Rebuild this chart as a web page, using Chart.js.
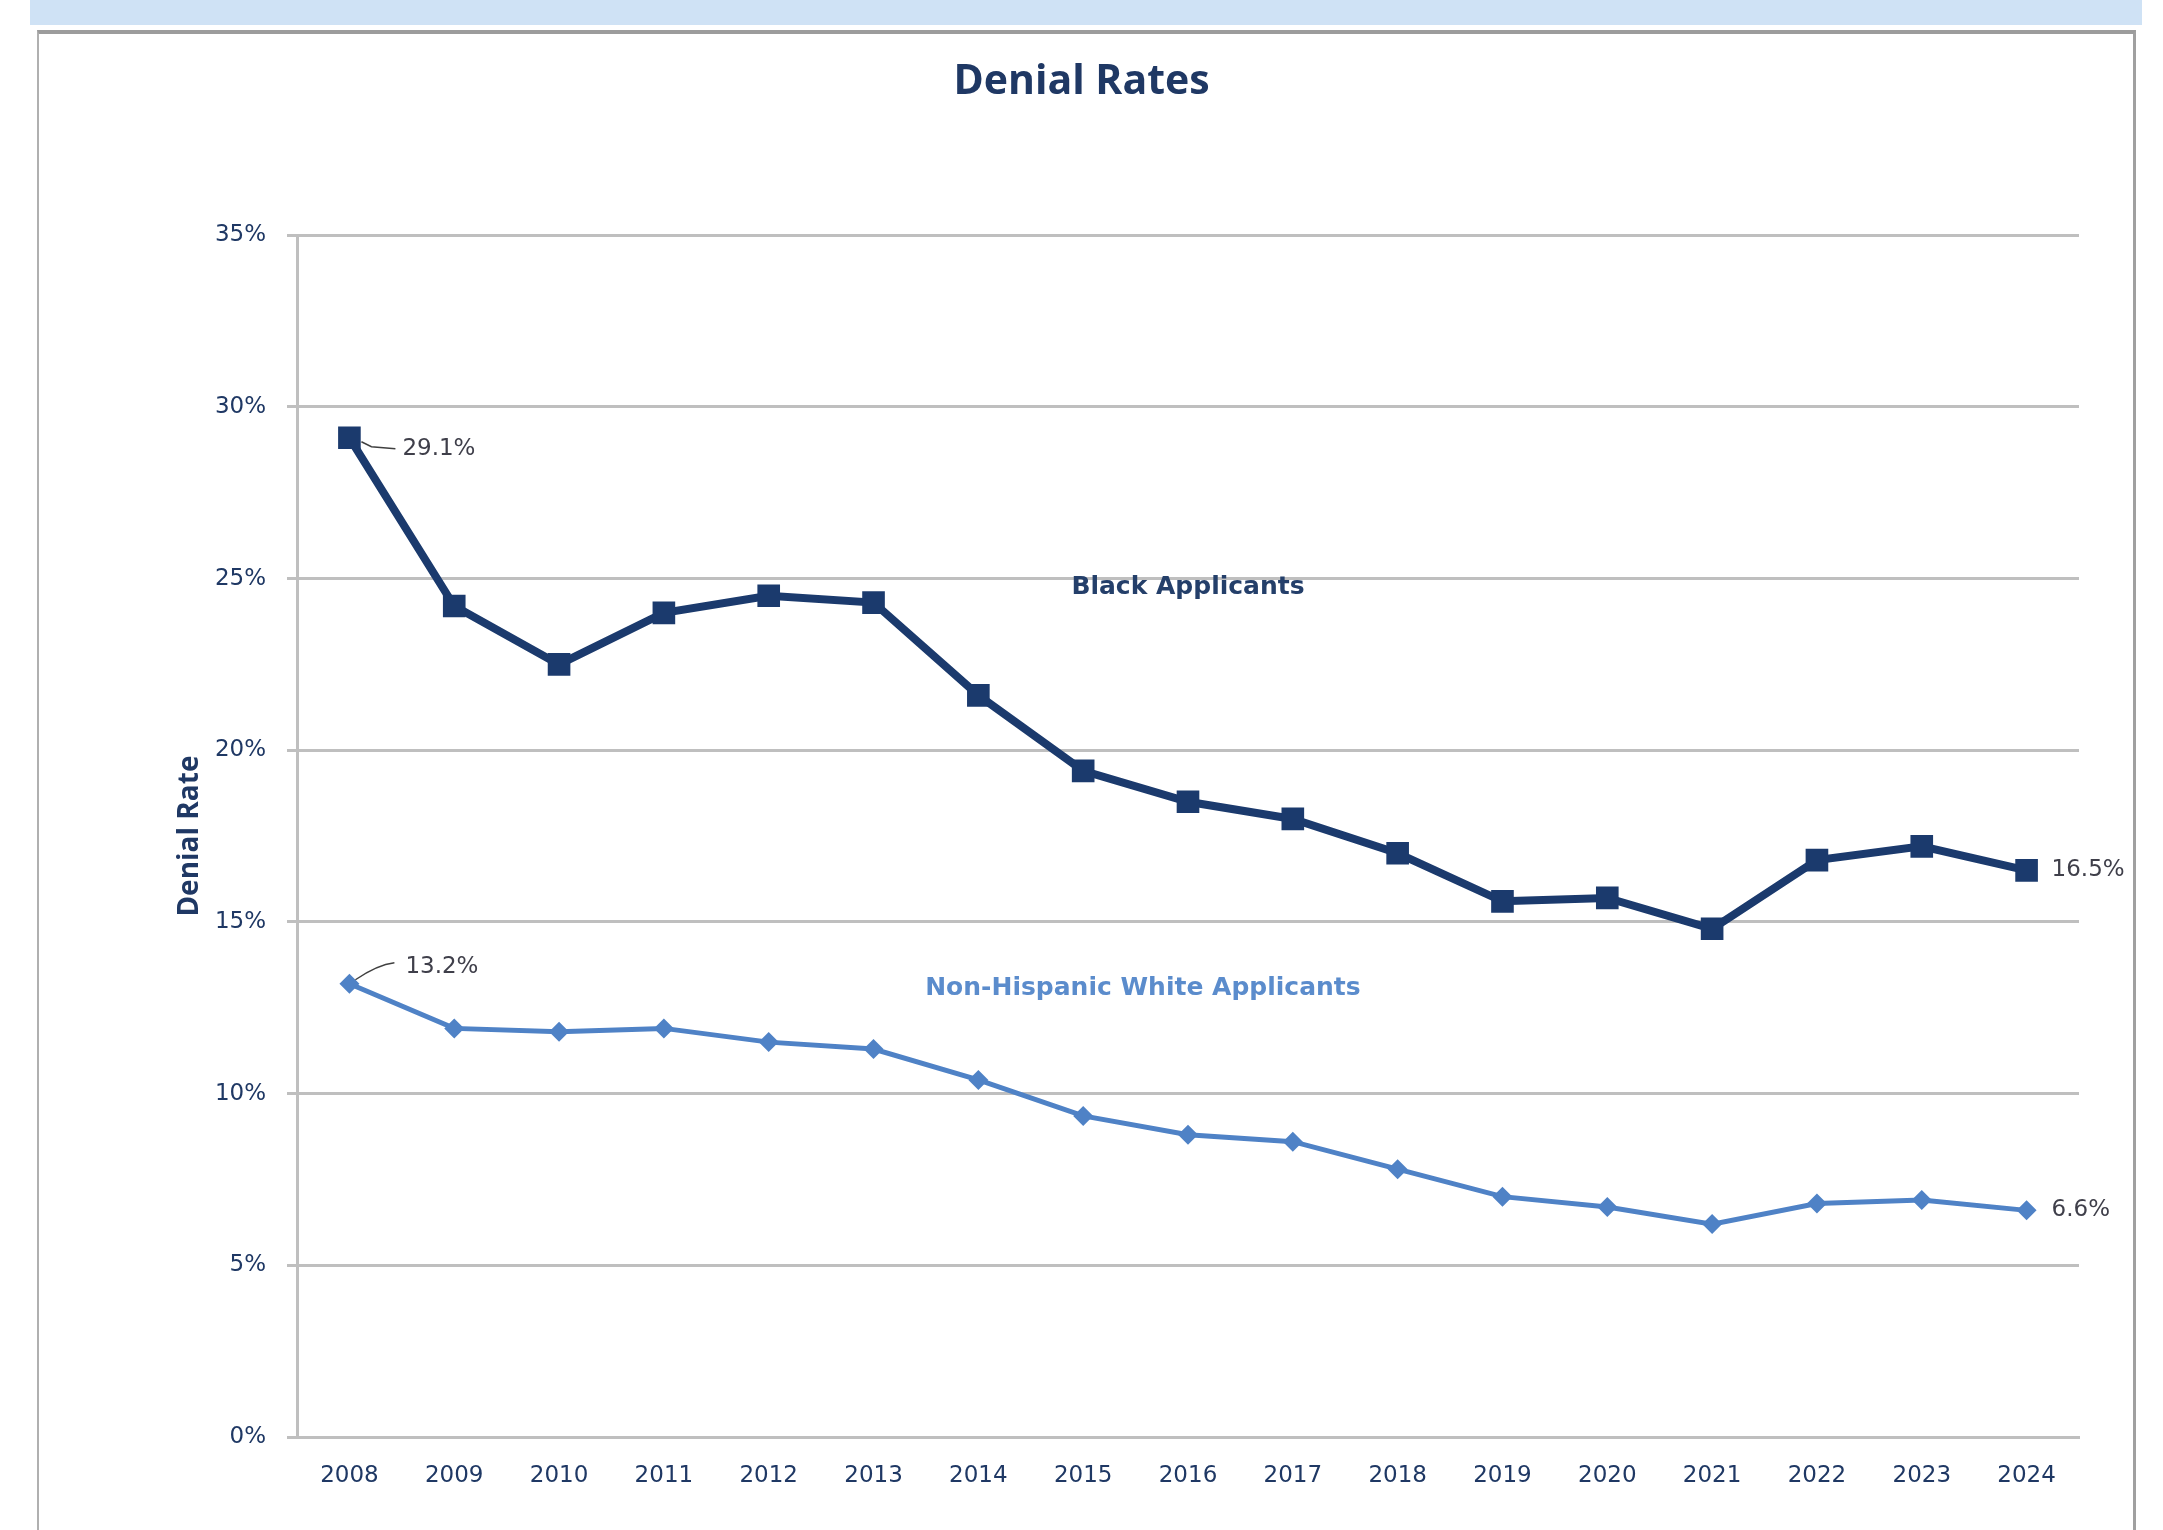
<!DOCTYPE html>
<html lang="en">

<head>
  <meta charset="UTF-8">
  <title>Denial Rates</title>
  <script src="https://cdn.jsdelivr.net/npm/chart.js"></script>
  <style>
    body { margin: 0; background: #ffffff; overflow: hidden; }
    .faixa { position: absolute; left: 30px; top: 0; width: 2112px; height: 25px; background: #cfe2f5; }
    .moldura { position: absolute; left: 37px; top: 30px; width: 2094px; height: 1520px;
      border-top: 4px solid #9c9c9c; border-left: 2px solid #b0b0b0; border-right: 3px solid #a0a0a0; background: #fff; }
    .grafico { position: absolute; left: 0; top: 0; width: 2163px; height: 1530px; }
  </style>
</head>

<body>
  <div class="faixa"></div>
  <div class="moldura"></div>
  <div class="grafico">
    <canvas id="myChartCanvas"></canvas>
  </div>

<script>
  // chart values
  const years = ['2008', '2009', '2010', '2011', '2012', '2013', '2014', '2015', '2016',
    '2017', '2018', '2019', '2020', '2021', '2022', '2023', '2024'];
  const blackRates = [29.1, 24.2, 22.5, 24.0, 24.5, 24.3, 21.6, 19.4, 18.5, 18.0, 17.0, 15.6, 15.7, 14.8, 16.8, 17.2, 16.5];
  const whiteRates = [13.2, 11.9, 11.8, 11.9, 11.5, 11.3, 10.4, 9.35, 8.8, 8.6, 7.8, 7.0, 6.7, 6.2, 6.8, 6.9, 6.6];
  const yMin = 0;
  const yMax = 35;
  const yStep = 5;

  const navy = '#1f3864';
  const darkLine = '#1b3a6d';
  const lightLine = '#4f82c6';
  const gridColor = '#bfbfbf';
  const tickFont = { family: 'DejaVu Sans', size: 23 };

  // first / last value labels with their little leader lines
  const valueLabels = {
    id: 'valueLabels',
    afterDatasetsDraw(chart) {
      const ctx = chart.ctx;
      const b = chart.getDatasetMeta(0).data;
      const w = chart.getDatasetMeta(1).data;
      const last = years.length - 1;

      ctx.save();
      ctx.font = '23px "DejaVu Sans"';
      ctx.fillStyle = '#3f3f4a';
      ctx.textAlign = 'left';
      ctx.textBaseline = 'middle';
      ctx.strokeStyle = '#404040';
      ctx.lineWidth = 1.5;

      // 2008 black
      let p = b[0];
      ctx.beginPath();
      ctx.moveTo(p.x + 12, p.y + 4);
      ctx.lineTo(p.x + 22, p.y + 9);
      ctx.lineTo(p.x + 46, p.y + 11);
      ctx.stroke();
      ctx.fillText(blackRates[0].toFixed(1) + '%', p.x + 53, p.y + 11);

      // 2008 white
      p = w[0];
      ctx.beginPath();
      ctx.moveTo(p.x + 6, p.y - 4);
      ctx.quadraticCurveTo(p.x + 28, p.y - 19, p.x + 45, p.y - 21);
      ctx.stroke();
      ctx.fillText(whiteRates[0].toFixed(1) + '%', p.x + 56, p.y - 17);

      // 2024 both
      p = b[last];
      ctx.fillText(blackRates[last].toFixed(1) + '%', p.x + 25, p.y);
      p = w[last];
      ctx.fillText(whiteRates[last].toFixed(1) + '%', p.x + 25, p.y);

      // series names inside the plot
      const x = chart.scales.x;
      const y = chart.scales.y;
      ctx.textAlign = 'center';
      ctx.font = 'bold 25px "DejaVu Sans"';
      ctx.fillStyle = '#243f6a';
      ctx.fillText('Black Applicants', x.getPixelForValue(8), y.getPixelForValue(24.75));
      ctx.fillStyle = '#5b8ccc';
      ctx.fillText('Non-Hispanic White Applicants', x.getPixelForValue(7.57), y.getPixelForValue(13.07));
      ctx.restore();
    }
  };

  const dados = {
    labels: years,
    datasets: [{
      label: 'Black Applicants',
      data: blackRates,
      borderColor: darkLine,
      backgroundColor: darkLine,
      borderWidth: 8,
      pointStyle: 'rect',
      pointRadius: 16,
      pointBorderWidth: 0,
      tension: 0
    }, {
      label: 'Non-Hispanic White Applicants',
      data: whiteRates,
      borderColor: lightLine,
      backgroundColor: lightLine,
      borderWidth: 5,
      pointStyle: 'rectRot',
      pointRadius: 10,
      pointBorderWidth: 0,
      tension: 0
    }]
  };

  const config = {
    type: 'line',
    data: dados,
    options: {
      responsive: true,
      maintainAspectRatio: false,
      animation: false,
      layout: { padding: { top: 58, right: 0, bottom: 0, left: 0 } },
      plugins: {
        legend: { display: false },
        tooltip: { enabled: false },
        title: {
          display: true,
          text: 'Denial Rates',
          color: navy,
          font: { family: 'Open Sans', size: 41, weight: 'bold', lineHeight: 1.2 },
          padding: { top: 0, bottom: 128 }
        }
      },
      scales: {
        x: {
          offset: true,
          grid: { display: false, drawTicks: false },
          border: { display: true, color: gridColor, width: 3 },
          ticks: { color: navy, font: tickFont, padding: 25, maxRotation: 0 },
          afterFit: function (scale) { scale.height = 93; }
        },
        y: {
          min: yMin,
          max: yMax,
          grid: { color: gridColor, lineWidth: 3, drawTicks: true, tickLength: 10 },
          border: { display: true, color: gridColor, width: 3 },
          ticks: {
            stepSize: yStep,
            color: navy,
            font: tickFont,
            padding: 21,
            callback: function (v) { return v + '%'; }
          },
          title: {
            display: true,
            text: 'Denial Rate',
            color: navy,
            font: { family: 'Open Sans', size: 28, weight: 'bold', lineHeight: 1.2 },
            padding: { top: 173, bottom: 0 }
          },
          afterFit: function (scale) { scale.width = 297; }
        },
        // empty right axis only keeps room for the end labels
        yRight: {
          position: 'right',
          min: yMin,
          max: yMax,
          grid: { display: false, drawTicks: false },
          border: { display: false },
          ticks: { display: false },
          afterFit: function (scale) { scale.width = 84; }
        }
      }
    },
    plugins: [valueLabels]
  };

  let myChart = new Chart(document.getElementById('myChartCanvas'), config);
</script>
</body>

</html>
